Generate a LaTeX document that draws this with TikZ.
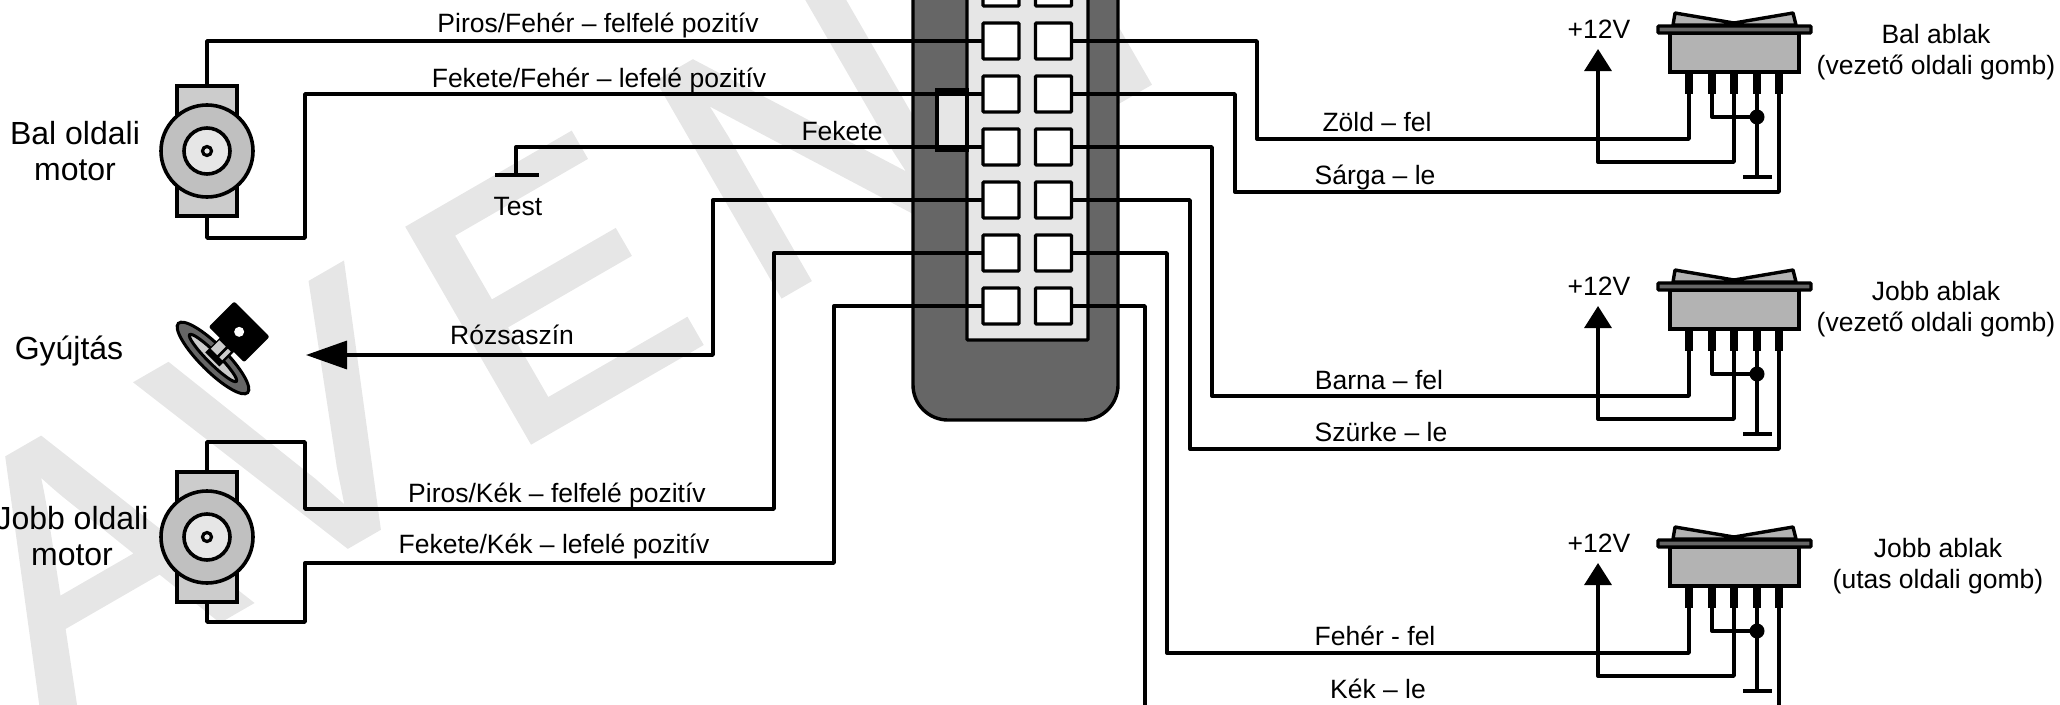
\documentclass[tikz,border=0pt]{standalone}
\usepackage{fontspec}
\setmainfont{Liberation Sans}
\newfontfamily\markfont[FakeBold=1.5]{Liberation Sans}
\usetikzlibrary{arrows.meta}

\definecolor{shellgray}{HTML}{666666}
\definecolor{palegray}{HTML}{E6E6E6}
\definecolor{switchgray}{HTML}{B3B3B3}
\definecolor{motorgray}{HTML}{CCCCCC}
\definecolor{ringgray}{HTML}{C0C0C0}

\tikzset{
  wire/.style={line width=3.4pt,line join=round,line cap=round},
  wirelabel/.style={inner sep=0pt,font=\fontsize{26.5}{31}\selectfont,align=center},
  biglabel/.style={inner sep=0pt,font=\fontsize{32}{36}\selectfont,align=center},
  markletter/.style={inner sep=0pt,anchor=base,rotate=30,text=palegray,font=\markfont\fontsize{358}{358}\selectfont},
  socket/.style={draw,line width=3.4pt,fill=white,rounded corners=1pt,minimum size=36pt,inner sep=0pt},
  motorbody/.style={draw,line width=3.6pt,fill=motorgray,minimum width=60pt,minimum height=130pt,inner sep=0pt},
  motorring/.style={draw,line width=3.6pt,circle,fill=ringgray,minimum size=92pt,inner sep=0pt},
  motorcore/.style={draw,line width=3.6pt,circle,fill=palegray,minimum size=46pt,inner sep=0pt},
  motoraxle/.style={draw,line width=3.2pt,circle,fill=palegray,minimum size=9pt,inner sep=0pt},
  lug/.style={fill=black,minimum width=7.5pt,minimum height=22pt,inner sep=0pt},
  joint/.style={fill=black,circle,minimum size=15pt,inner sep=0pt},
}

\begin{document}
\begin{tikzpicture}[x=1pt,y=1pt,yscale=-1]
\path[use as bounding box,clip] (0,0) rectangle (2060,704);

% Watermark
\node[markletter] (markA) at (147,662) {A};
\node[markletter] (markV) at (363,537) {V};
\node[markletter] (markE) at (610,396) {E};
\node[markletter] (markN) at (869,245) {N};
\node[markletter] (markT) at (1134,92) {T};

% Connector shell
\draw[line width=3.4pt,fill=shellgray,rounded corners=35pt] (913,-60) rectangle (1118,420);
\draw[line width=3.4pt,fill=palegray,rounded corners=1pt] (967,-60) rectangle (1088,340);
\draw[line width=3.4pt,fill=palegray] (937,90) rectangle (967,150);

% Sockets
\foreach \row/\y in {1/-12,2/41,3/94,4/147,5/200,6/253,7/306}{
  \node[socket] (L\row) at (1001,\y) {};
  \node[socket] (R\row) at (1053.5,\y) {};
}

% Left motor
\node[motorbody] (motorL) at (207,151) {};
\node[motorring] (ringL) at (207,151) {};
\node[motorcore] (coreL) at (207,151) {};
\node[motoraxle] (axleL) at (207,151) {};
\draw[wire] (motorL.north) |- (L2.west);
\draw[wire] (motorL.south) |- (305,238) |- (L3.west);

% Ground
\coordinate (testL) at (516,175);
\draw[wire] (L4.west) -| (testL);
\draw[line width=4pt] (495,175) -- (539,175);

% Ignition
\begin{scope}[shift={(213,358)},rotate=-45]
\draw[line width=3pt,fill=shellgray] (0,0) ellipse [x radius=13, y radius=49];
\draw[line width=3pt,fill=motorgray] (0,0) ellipse [x radius=5.5, y radius=33];
\draw[line width=3pt,fill=black] (0,-8) rectangle (20,9);
\fill[motorgray] (5,-8) rectangle (17,1);
\fill[motorgray] (5,4) rectangle (17,8);
\fill[black,rounded corners=2pt] (19,-25) rectangle (55,25);
\fill[white] (37,0) circle [radius=5];
\end{scope}
\coordinate (ignitionTip) at (306,355);
\draw[wire,-{Triangle[width=28pt,length=41pt]}] (L5.west) -| (713,355) -- (ignitionTip);

% Right motor
\node[motorbody] (motorR) at (207,537) {};
\node[motorring] (ringR) at (207,537) {};
\node[motorcore] (coreR) at (207,537) {};
\node[motoraxle] (axleR) at (207,537) {};
\draw[wire] (motorR.north) |- (305,442) |- (774,509) |- (L6.west);
\draw[wire] (motorR.south) |- (305,622) |- (834,563) |- (L7.west);

% Switches
\foreach \sw/\dy in {1/0,2/257,3/514}{
  \begin{scope}[yshift=\dy]
  \draw[line width=3.4pt,line join=round,fill=switchgray] (1673,25) -- (1675,13) -- (1734,23) -- (1793,13) -- (1796,25) -- cycle;
  \draw[line width=3.4pt,fill=switchgray] (1670,33) rectangle (1799,72);
  \draw[line width=3.4pt,fill=shellgray,rounded corners=1pt] (1658,26) rectangle (1811,33);
  \node[lug] (pin\sw a) at (1689,83) {};
  \node[lug] (pin\sw b) at (1712,83) {};
  \node[lug] (pin\sw c) at (1734,83) {};
  \node[lug] (pin\sw d) at (1757,83) {};
  \node[lug] (pin\sw e) at (1779,83) {};
  \node[joint] (join\sw) at (1757,117) {};
  \coordinate (plus\sw) at (1598,49);
  \coordinate (earth\sw) at (1757,177);
  \draw[wire] (pin\sw b.south) |- (join\sw);
  \draw[wire] (pin\sw d.south) -- (earth\sw);
  \draw[line width=4pt] (1743,177) -- (1772,177);
  \draw[wire,-{Triangle[width=27pt,length=22pt]}] (pin\sw c.south) |- (1598,162) -- (plus\sw);
  \node[wirelabel] (volt\sw) at (1599,29) {+12V};
  \end{scope}
}

% Wires to the switches
\draw[wire] (R2.east) -| (1257,139) -| (pin1a.south);
\draw[wire] (R3.east) -| (1235,192) -| (pin1e.south);
\draw[wire] (R4.east) -| (1212,396) -| (pin2a.south);
\draw[wire] (R5.east) -| (1190,449) -| (pin2e.south);
\draw[wire] (R6.east) -| (1167,653) -| (pin3a.south);
\draw[wire] (R7.east) -| (1145,710) -| (pin3e.south);

% Text Node
\node[wirelabel] (lblA) at (598,25) {Piros/Fehér – felfelé pozitív};
\node[wirelabel] (lblB) at (599,80) {Fekete/Fehér – lefelé pozitív};
\node[wirelabel] (lblC) at (842,131) {Fekete};
\node[wirelabel] (lblD) at (518,207) {Test};
\node[wirelabel] (lblE) at (512,335) {Rózsaszín};
\node[wirelabel] (lblF) at (557,495) {Piros/Kék – felfelé pozitív};
\node[wirelabel] (lblG) at (554,546) {Fekete/Kék – lefelé pozitív};
\node[biglabel] (lblH) at (75,151) {Bal oldali\\motor};
\node[biglabel] (lblI) at (69,351) {Gyújtás};
\node[biglabel] (lblJ) at (72,536) {Jobb oldali\\motor};
\node[wirelabel] (lblK) at (1377,122) {Zöld – fel};
\node[wirelabel] (lblL) at (1375,177) {Sárga – le};
\node[wirelabel] (lblM) at (1379,380) {Barna – fel};
\node[wirelabel] (lblN) at (1381,432) {Szürke – le};
\node[wirelabel] (lblO) at (1375,636) {Fehér - fel};
\node[wirelabel] (lblP) at (1378,689) {Kék – le};
\node[wirelabel] (lblQ) at (1936,52) {Bal ablak\\(vezető oldali gomb)};
\node[wirelabel] (lblR) at (1936,309) {Jobb ablak\\(vezető oldali gomb)};
\node[wirelabel] (lblS) at (1938,566) {Jobb ablak\\(utas oldali gomb)};

\end{tikzpicture}
\end{document}
